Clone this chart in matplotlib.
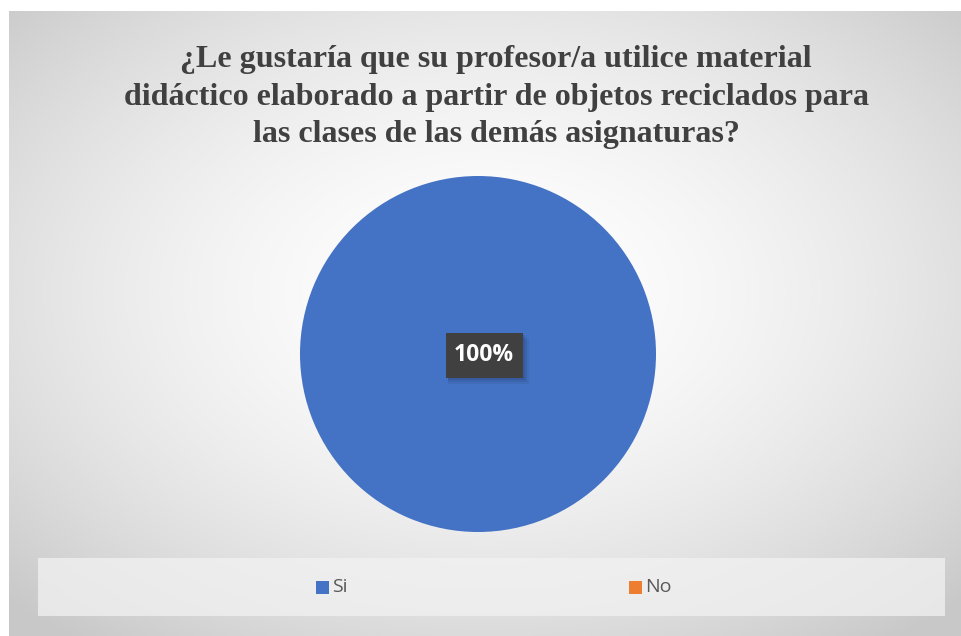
import numpy as np
import matplotlib
matplotlib.use("Agg")
import matplotlib.pyplot as plt
from matplotlib.patches import Rectangle

title = "¿Le gustaría que su profesor/a utilice material\ndidáctico elaborado a partir de objetos reciclados para\nlas clases de las demás asignaturas?"
categories = ["Si", "No"]
values = [100, 0]
colors = ["#4472C4", "#ED7D31"]

W, H = 961, 636
fig = plt.figure(figsize=(W / 100, H / 100), dpi=100)
fig.patch.set_facecolor("white")

# chart area background with radial gradient
x0, y0 = 9, 11  # pixel offsets (left, top)
bg = fig.add_axes([x0 / W, 0, (W - x0) / W, (H - y0) / H])
bg.set_axis_off()
nx, ny = 400, 300
xs = np.linspace(0, 1, nx)
ys = np.linspace(0, 1, ny)
X, Y = np.meshgrid(xs, ys)
cx, cy = 0.5, 0.55
d = np.sqrt(((X - cx) / 0.5) ** 2 + ((Y - cy) / 0.5) ** 2) / np.sqrt(2)
d = np.clip(d, 0, 1)
v = 1.0 - (1.0 - 0.785) * d ** 1.7
img = np.dstack([v, v, v])
bg.imshow(img, extent=[0, 1, 0, 1], aspect="auto", origin="lower")
bg.set_xlim(0, 1)
bg.set_ylim(0, 1)

# legend box
lx0, lx1, ly0, ly1 = 38, 945, 558, 616
fig.patches.append(Rectangle((lx0 / W, 1 - ly1 / H), (lx1 - lx0) / W, (ly1 - ly0) / H,
                             transform=fig.transFigure, facecolor="#f2f2f2", alpha=0.75,
                             edgecolor="none", zorder=1))

# pie
pcx, pcy, r = 478, 354, 178
pie_ax = fig.add_axes([(pcx - r) / W, 1 - (pcy + r) / H, 2 * r / W, 2 * r / H])
pie_ax.set_axis_off()
wedges, _ = pie_ax.pie(values, colors=colors, startangle=90, counterclock=False,
                       radius=1.0, wedgeprops=dict(linewidth=0))
pie_ax.set_xlim(-1, 1)
pie_ax.set_ylim(-1, 1)

# data label
lab_cx, lab_cy = 484, 355
bw, bh = 77, 45
for k, a in [(6, 0.10), (4, 0.15), (2, 0.2)]:
    fig.patches.append(Rectangle(((lab_cx - bw / 2 + 2) / W, 1 - (lab_cy + bh / 2 + k) / H),
                                 (bw + k - 2) / W, bh / H,
                                 transform=fig.transFigure, facecolor="#1f3864", alpha=a,
                                 edgecolor="none", zorder=5))
fig.patches.append(Rectangle(((lab_cx - bw / 2) / W, 1 - (lab_cy + bh / 2) / H), bw / W, bh / H,
                             transform=fig.transFigure, facecolor="#404040",
                             edgecolor="none", zorder=6))
fig.text(lab_cx / W, 1 - lab_cy / H, f"{values[0]}%", ha="center", va="center",
         fontsize=16.5, fontweight="bold", color="white", family="Open Sans", zorder=7)

# title
fig.text(496 / W, 1 - 97 / H, title, ha="center", va="center", fontsize=23,
         fontweight="bold", color="#404040", family="Liberation Serif", linespacing=1.38)

# legend entries
legend_x = [316, 629]
sq = 13
for cat, col, lxp in zip(categories, colors, legend_x):
    fig.patches.append(Rectangle((lxp / W, 1 - 594 / H), sq / W, sq / H,
                                 transform=fig.transFigure, facecolor=col,
                                 edgecolor="none", zorder=3))
    fig.text((lxp + sq + 3) / W, 1 - 587 / H, cat, ha="left", va="center",
             fontsize=14, color="#595959", family="Open Sans")

fig.savefig("out.png", dpi=100)
